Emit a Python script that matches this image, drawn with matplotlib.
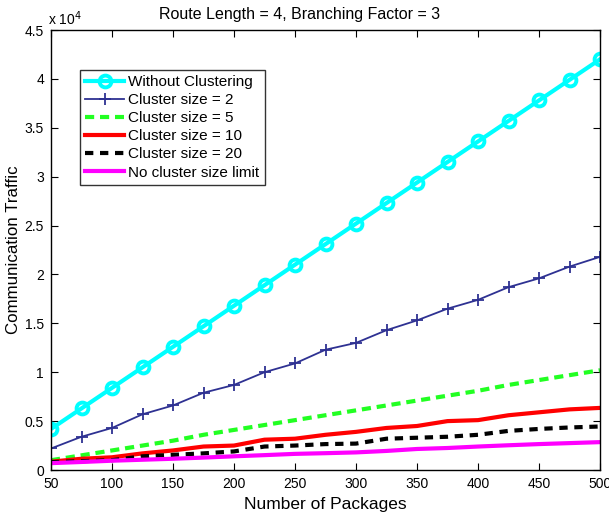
import matplotlib
matplotlib.use("Agg")
import matplotlib.pyplot as plt
from matplotlib.ticker import FuncFormatter, MultipleLocator

plt.rcParams['font.family'] = ['Liberation Sans', 'DejaVu Sans']

packages = [50, 75, 100, 125, 150, 175, 200, 225, 250, 275, 300,
            325, 350, 375, 400, 425, 450, 475, 500]

without_clustering = [4200, 6300, 8400, 10500, 12600, 14700, 16800, 18900, 21000, 23100,
                      25200, 27300, 29400, 31500, 33600, 35700, 37800, 39900, 42000]
cluster_2 = [2200, 3400, 4300, 5700, 6600, 7900, 8700, 10000, 10900, 12300,
             13000, 14300, 15300, 16500, 17400, 18700, 19600, 20800, 21800]
cluster_5 = [1000, 1500, 2000, 2500, 3000, 3600, 4100, 4600, 5100, 5600,
             6100, 6600, 7100, 7600, 8100, 8700, 9200, 9700, 10200]
cluster_10 = [850, 1150, 1300, 1700, 2000, 2400, 2500, 3100, 3200, 3600,
              3900, 4300, 4500, 5000, 5100, 5600, 5900, 6200, 6350]
cluster_20 = [800, 900, 1000, 1400, 1550, 1700, 1900, 2400, 2500, 2650,
              2700, 3200, 3300, 3400, 3600, 4000, 4200, 4350, 4450]
no_limit = [700, 820, 950, 1050, 1150, 1270, 1400, 1520, 1650, 1720,
            1800, 1950, 2150, 2250, 2400, 2530, 2650, 2750, 2850]

fig = plt.figure(figsize=(6.09, 5.13), dpi=100)
ax = fig.add_axes([51 / 609, 43 / 513, 549 / 609, 440 / 513])

ax.plot(packages, without_clustering, color='#00FFFF', lw=3.0, marker='o',
        markersize=8.5, markerfacecolor='none', markeredgewidth=2.8,
        label='Without Clustering')
ax.plot(packages, cluster_2, color='#2E3192', lw=1.3, marker='+',
        markersize=9, markeredgewidth=1.3, label='Cluster size = 2')
ax.plot(packages, cluster_5, color='#22FF22', lw=3.0, dashes=(2.2, 1.4),
        label='Cluster size = 5')
ax.plot(packages, cluster_10, color='#FF0000', lw=3.0, label='Cluster size = 10')
ax.plot(packages, cluster_20, color='#000000', lw=3.0, dashes=(2.0, 1.6),
        label='Cluster size = 20')
ax.plot(packages, no_limit, color='#FF00FF', lw=3.0, label='No cluster size limit')

ax.set_xlim(50, 500)
ax.set_ylim(0, 45000)
ax.xaxis.set_major_locator(MultipleLocator(50))
ax.yaxis.set_major_locator(MultipleLocator(5000))
ax.yaxis.set_major_formatter(FuncFormatter(lambda v, p: f"{v / 1e4:g}"))

ax.tick_params(direction='in', length=5, width=0.8, top=True, right=True,
               labelsize=10, pad=5)
for s in ax.spines.values():
    s.set_linewidth(1.0)

ax.text(-0.006, 1.005, r'x 10$^4$', transform=ax.transAxes, fontsize=10,
        ha='left', va='bottom')
fig.text(300 / 609, 1 - 14 / 513, 'Route Length = 4, Branching Factor = 3',
         fontsize=11.5, ha='center', va='center')
ax.set_xlabel('Number of Packages', fontsize=12.5, labelpad=4)
ax.set_ylabel('Communication Traffic', fontsize=12.2, va='center')
ax.yaxis.set_label_coords(-37 / 549, 0.5)

leg = ax.legend(loc='upper left', bbox_to_anchor=(0.053, 0.91), fontsize=11,
                frameon=True, fancybox=False, edgecolor='black',
                handlelength=2.5, handletextpad=0.3, labelspacing=0.27,
                borderpad=0.35, borderaxespad=0)
leg.get_frame().set_linewidth(1.0)

fig.savefig('out.png', dpi=100)
